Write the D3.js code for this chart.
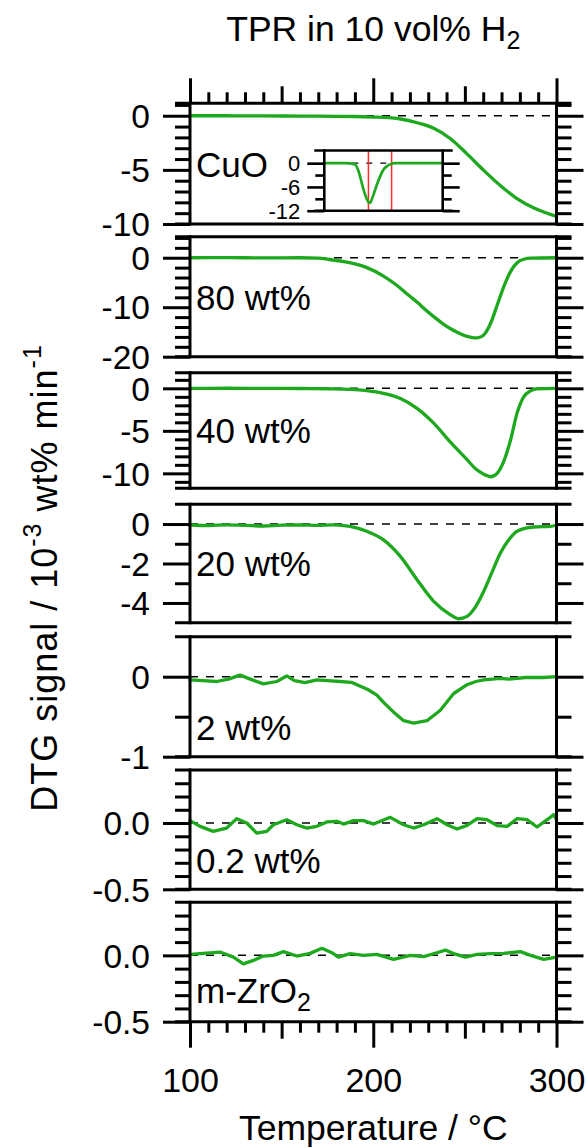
<!DOCTYPE html>
<html>
<head>
<meta charset="utf-8">
<script src="https://cdn.jsdelivr.net/npm/d3@7"></script>
<style>
  html, body { margin: 0; padding: 0; background: #fff; }
  svg { display: block; font-family: "Liberation Sans", Arial, sans-serif; }
</style>
</head>
<body>
<svg id="chart" width="588" height="1148"></svg>
<script>
// ---------- data ----------
const tempDomain = [100, 300];
const sampleNames = ["CuO", "80 wt%", "40 wt%", "20 wt%", "2 wt%", "0.2 wt%", "m-ZrO2"];

// temperature (°C) and DTG signal (10^-3 wt% min^-1) for each sample
const tCuO = [100, 120, 140, 160, 180, 190, 200, 210, 215, 224, 233, 242, 251, 260, 269, 278, 288, 300];
const vCuO = [0.0, 0.0, -0.02, -0.03, -0.05, -0.07, -0.12, -0.2, -0.3, -0.65, -1.16, -2.1, -3.5, -5.0, -6.4, -7.6, -8.55, -9.3];

const t80 = [100, 120, 140, 160, 170, 175, 187, 196.5, 205.6, 210, 215, 219, 224, 228.5, 233, 237.5, 242, 246.6, 251.2, 254, 256.5, 259, 261, 264, 267.6, 271.2, 274.9, 278.5, 282.1, 286, 300];
const v80 = [0.0, 0.02, -0.03, 0.0, -0.1, -0.3, -1.0, -2.0, -3.7, -4.8, -6.2, -7.5, -9.0, -10.5, -11.9, -13.2, -14.3, -15.2, -15.9, -16.15, -16.2, -15.95, -15.3, -13.3, -9.6, -5.9, -2.8, -1.0, -0.3, -0.1, 0.0];

const t40 = [100, 120, 140, 160, 175, 187.4, 196.5, 205.6, 214.8, 223.9, 233, 242, 251.2, 256, 260.3, 264, 267.6, 271.2, 274.9, 278.5, 282.1, 285.8, 289.4, 300];
const v40 = [0.0, 0.01, 0.0, -0.02, -0.05, -0.12, -0.28, -0.6, -1.2, -2.35, -4.1, -6.3, -8.4, -9.5, -10.1, -10.4, -10.0, -8.6, -6.1, -2.9, -1.0, -0.3, -0.05, 0.0];

const t20 = [100, 110, 120, 130, 140, 150, 160, 170, 178, 187.4, 196.5, 205.6, 214.8, 223.9, 233, 242, 246.6, 251.2, 255.8, 260.3, 265, 269.4, 274, 278.5, 287.6, 296.7, 300];
const v20 = [-0.05, -0.08, -0.04, -0.07, -0.1, -0.06, -0.05, -0.07, -0.04, -0.12, -0.37, -0.8, -1.64, -2.82, -3.92, -4.59, -4.8, -4.68, -4.2, -3.41, -2.4, -1.47, -0.8, -0.37, -0.15, -0.12, -0.05];

const t2 = [100, 107, 114.6, 121, 127.3, 134, 140, 147.4, 152.8, 157, 162.8, 169.2, 175, 182, 188, 193, 197, 202, 206, 211, 216.6, 222, 229.3, 236.6, 243.9, 251.2, 256, 260.3, 265, 269.4, 274, 278.5, 283, 287.6, 293, 300];
const v2 = [-0.04, -0.05, -0.06, -0.03, 0.02, -0.04, -0.09, -0.06, 0.01, -0.05, -0.075, -0.04, -0.05, -0.06, -0.07, -0.12, -0.16, -0.23, -0.33, -0.44, -0.55, -0.58, -0.55, -0.42, -0.21, -0.10, -0.06, -0.04, -0.03, -0.02, -0.03, -0.02, -0.01, -0.01, -0.01, 0.0];

const t02 = [100, 105.5, 112.7, 120, 125.5, 131, 136.4, 141.9, 145.5, 152.8, 158.3, 163.8, 169.2, 174.7, 180.2, 183.8, 189.3, 194.7, 200.2, 209.3, 216.6, 222, 227.5, 234.8, 240.3, 245.7, 251.2, 256.7, 262.1, 267.6, 273.1, 278.5, 284, 289.4, 294.9, 298.5, 300];
const v02 = [0.018, -0.025, -0.063, -0.038, 0.033, 0, -0.076, -0.063, -0.013, 0.025, -0.013, -0.038, -0.025, 0.008, 0.013, -0.008, 0.018, 0.018, -0.008, 0.043, -0.013, -0.038, -0.013, 0.033, -0.013, -0.045, -0.018, 0.033, 0.025, -0.02, -0.025, 0.033, 0.025, -0.03, 0.025, 0.063, 0.025];

const tZr = [100, 116.4, 123.7, 129.1, 134.6, 140, 145.5, 151, 158.3, 165.6, 172, 177.4, 181, 187.4, 194.7, 202, 211.1, 220.2, 227.5, 234.8, 239.3, 243.9, 250.3, 256.7, 263.9, 271.2, 280.3, 285.8, 293, 300];
const vZr = [0.008, 0.025, -0.013, -0.064, -0.038, -0.005, 0, 0.028, -0.005, 0.015, 0.053, 0.02, -0.013, 0.013, 0, 0.008, -0.03, 0, -0.01, 0.02, 0.04, 0.013, -0.013, 0.008, 0.013, 0.015, 0.028, 0, -0.03, -0.013];

const temps = [tCuO, t80, t40, t20, t2, t02, tZr];
const signals = [vCuO, v80, v40, v20, v2, v02, vZr];

// y-axis ranges (top, bottom) and ticks of each panel
const yDomains = [[1.15, -10], [4.25, -20], [1.84, -11.76], [1.0, -5], [0.5, -1], [0.4, -0.5], [0.4, -0.5]];
const majorTicks = [[0, -5, -10], [0, -10, -20], [0, -5, -10], [0, -2, -4], [0, -1], [0, -0.5], [0, -0.5]];
const majorLabels = [["0", "-5", "-10"], ["0", "-10", "-20"], ["0", "-5", "-10"], ["0", "-2", "-4"], ["0", "-1"], ["0.0", "-0.5"], ["0.0", "-0.5"]];
const minorTicks = [
  [1, -1, -2, -3, -4, -6, -7, -8, -9],
  [4, 2, -2, -4, -6, -8, -12, -14, -16, -18],
  [1, -1, -2, -3, -4, -6, -7, -8, -9, -11],
  [-1, -3],
  [-0.5],
  [0.3, 0.2, 0.1, -0.1, -0.2, -0.3, -0.4],
  [0.3, 0.2, 0.1, -0.1, -0.2, -0.3, -0.4]
];
// noisy traces are drawn point to point, the rest smoothed
const smoothTrace = [true, true, true, true, false, false, false];

// temperature ticks
const tempMajor = [100, 200, 300];
const tempMid = [150, 250];
const tempMinor = [110, 120, 130, 140, 160, 170, 180, 190, 210, 220, 230, 240, 260, 270, 280, 290];

// CuO inset: wider temperature window
const insetDomainT = [110, 620];
const insetDomainY = [3.2, -12];
const insetT = [110, 200, 242, 256, 267, 278, 290, 300, 307, 318, 328, 338, 350, 364, 379, 393, 415, 450, 620];
const insetV = [0, 0, -0.3, -1.8, -4, -6.5, -8.6, -9.8, -10, -8.6, -6.9, -5.2, -3.4, -1.7, -0.8, -0.3, 0, 0, 0];
const insetMajor = [0, -6, -12];
const insetMinor = [-3, -9];
const insetMarkers = [300, 400];

// ---------- layout ----------
const svg = d3.select("#chart");
const xLeft = 190, xRight = 556.5;
const panelBox = [[103.3, 224], [236.7, 356.7], [372.7, 488.3], [504.3, 622.7], [636.7, 756.7], [770, 889.3], [902.3, 1021.7]];
const labelBaseline = [176.7, 310, 442.7, 576, 740, 873.3, 1003.3];
const GREEN = "#1ea81e";
const AXW = 3;
const MAJ = 27, MIN = 15;
const TICK_FONT = 33.5, LABEL_FONT = 35, TITLE_FONT = 35.5;

const x = d3.scaleLinear().domain(tempDomain).range([xLeft, xRight]);

function styleAxis(sel, fontSize) {
  sel.select(".domain").remove();
  sel.selectAll(".tick line").attr("stroke", "#000").attr("stroke-width", AXW);
  sel.selectAll(".tick text").attr("fill", "#000").attr("font-size", fontSize)
    .attr("font-family", '"Liberation Sans", Arial, sans-serif');
}

function drawYAxes(g, y, majors, labels, minors, maj, min, pad, fs, lw) {
  const aL = g.append("g").attr("transform", `translate(${y.xl},0)`)
    .call(d3.axisLeft(y).tickValues(majors).tickSize(maj).tickPadding(pad).tickFormat((d, j) => labels[j]));
  styleAxis(aL, fs);
  aL.selectAll(".tick text").attr("dy", "0.35em");
  const aLm = g.append("g").attr("transform", `translate(${y.xl},0)`)
    .call(d3.axisLeft(y).tickValues(minors).tickSize(min).tickFormat(""));
  styleAxis(aLm, fs);
  const aR = g.append("g").attr("transform", `translate(${y.xr},0)`)
    .call(d3.axisRight(y).tickValues(majors).tickSize(maj).tickFormat(""));
  styleAxis(aR, fs);
  const aRm = g.append("g").attr("transform", `translate(${y.xr},0)`)
    .call(d3.axisRight(y).tickValues(minors).tickSize(min).tickFormat(""));
  styleAxis(aRm, fs);
  [aL, aLm, aR, aRm].forEach(a => a.selectAll(".tick line").attr("stroke-width", lw));
}

function drawFrame(g, xl, xr, top, bot, ext, lw) {
  g.append("line").attr("x1", xl - ext).attr("x2", xr + ext).attr("y1", top).attr("y2", top)
    .attr("stroke", "#000").attr("stroke-width", lw);
  g.append("line").attr("x1", xl - ext).attr("x2", xr + ext).attr("y1", bot).attr("y2", bot)
    .attr("stroke", "#000").attr("stroke-width", lw);
  [xl, xr].forEach(xx => g.append("line").attr("x1", xx).attr("x2", xx)
    .attr("y1", top - lw / 2).attr("y2", bot + lw / 2).attr("stroke", "#000").attr("stroke-width", lw));
}

// ---------- panels ----------
sampleNames.forEach((name, i) => {
  const [top, bot] = panelBox[i];
  const y = d3.scaleLinear().domain(yDomains[i]).range([top, bot]);
  y.xl = xLeft; y.xr = xRight;
  const g = svg.append("g").attr("class", "panel");

  // zero reference
  g.append("line").attr("x1", xLeft).attr("x2", xRight).attr("y1", y(0)).attr("y2", y(0))
    .attr("stroke", "#000").attr("stroke-width", 1.5).attr("stroke-dasharray", "8,8");

  const line = d3.line().x(d => x(d[0])).y(d => y(d[1]))
    .curve(smoothTrace[i] ? d3.curveMonotoneX : d3.curveLinear);
  g.append("path").datum(d3.zip(temps[i], signals[i]))
    .attr("d", line).attr("fill", "none").attr("stroke", GREEN)
    .attr("stroke-width", 3.3).attr("stroke-linejoin", "round").attr("stroke-linecap", "round");

  drawYAxes(g, y, majorTicks[i], majorLabels[i], minorTicks[i], MAJ, MIN, 13, TICK_FONT, AXW);
  drawFrame(g, xLeft, xRight, top, bot, MIN, AXW);

  // sample label
  const lab = g.append("text").attr("x", 196).attr("y", labelBaseline[i]).attr("font-size", LABEL_FONT).attr("fill", "#000");
  if (name === "m-ZrO2") {
    lab.append("tspan").text("m-ZrO");
    lab.append("tspan").attr("font-size", 25).attr("dy", 8).text("2");
  } else {
    lab.text(name);
  }
});

// ---------- temperature axes ----------
const topY = panelBox[0][0];
const botY = panelBox[panelBox.length - 1][1];
[[tempMajor, 25], [tempMid, 17], [tempMinor, 11]].forEach(([vals, len]) => {
  const a = svg.append("g").attr("transform", `translate(0,${topY})`)
    .call(d3.axisTop(x).tickValues(vals).tickSize(len).tickFormat(""));
  styleAxis(a, TICK_FONT);
});
[[tempMid, 17], [tempMinor, 11]].forEach(([vals, len]) => {
  const a = svg.append("g").attr("transform", `translate(0,${botY})`)
    .call(d3.axisBottom(x).tickValues(vals).tickSize(len).tickFormat(""));
  styleAxis(a, TICK_FONT);
});
const bx = svg.append("g").attr("transform", `translate(0,${botY})`)
  .call(d3.axisBottom(x).tickValues(tempMajor).tickSize(26).tickPadding(20).tickFormat(d3.format("d")));
styleAxis(bx, 34);

// ---------- CuO inset ----------
const inL = 324.3, inR = 442.7, inT = 150.5, inB = 210.7;
const xi = d3.scaleLinear().domain(insetDomainT).range([inL, inR]);
const yi = d3.scaleLinear().domain(insetDomainY).range([inT, inB]);
yi.xl = inL; yi.xr = inR;
const gi = svg.append("g").attr("class", "inset");
gi.append("line").attr("x1", inL).attr("x2", inR).attr("y1", yi(0)).attr("y2", yi(0))
  .attr("stroke", "#000").attr("stroke-width", 1.3).attr("stroke-dasharray", "6,8");
gi.selectAll("line.marker").data(insetMarkers).join("line").attr("class", "marker")
  .attr("x1", d => xi(d)).attr("x2", d => xi(d)).attr("y1", inT).attr("y2", inB)
  .attr("stroke", "#ff2a2a").attr("stroke-width", 1.5);
gi.append("path").datum(d3.zip(insetT, insetV))
  .attr("d", d3.line().x(d => xi(d[0])).y(d => yi(d[1])).curve(d3.curveMonotoneX))
  .attr("fill", "none").attr("stroke", GREEN).attr("stroke-width", 2.7).attr("stroke-linejoin", "round");
drawYAxes(gi, yi, insetMajor, insetMajor.map(String), insetMinor, 17, 9, 7, 22, 2.6);
drawFrame(gi, inL, inR, inT, inB, 10, 2.6);

// ---------- titles ----------
const title = svg.append("text").attr("x", (xLeft + xRight) / 2).attr("y", 41)
  .attr("text-anchor", "middle").attr("font-size", TITLE_FONT).attr("fill", "#000");
title.append("tspan").text("TPR in 10 vol% H");
title.append("tspan").attr("font-size", 25).attr("dy", 8).text("2");

svg.append("text").attr("x", (xLeft + xRight) / 2).attr("y", 1140)
  .attr("text-anchor", "middle").attr("font-size", TITLE_FONT).attr("fill", "#000")
  .text("Temperature / °C");

const yt = svg.append("text").attr("transform", "translate(57,578) rotate(-90)")
  .attr("text-anchor", "middle").attr("font-size", 36).attr("letter-spacing", 1).attr("fill", "#000");
yt.append("tspan").text("DTG signal / 10");
yt.append("tspan").attr("font-size", 25).attr("dy", -16).text("-3");
yt.append("tspan").attr("dy", 16).text(" wt% min");
yt.append("tspan").attr("font-size", 25).attr("dy", -16).text("-1");
</script>
</body>
</html>
